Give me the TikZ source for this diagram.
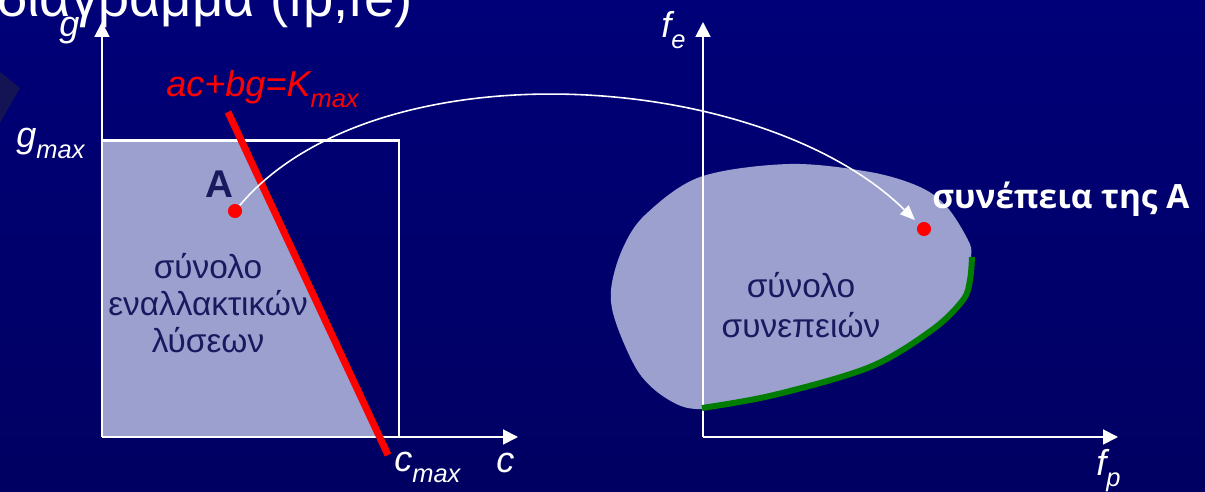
\documentclass[tikz,border=0pt]{standalone}
\usepackage{fontspec}
\setmainfont{Liberation Sans}
\newfontfamily\opensans{Open Sans}
\usetikzlibrary{arrows.meta}
\definecolor{bgtop}{RGB}{0,0,120}
\definecolor{bgbot}{RGB}{0,0,98}
\definecolor{lav}{RGB}{155,160,207}
\definecolor{darktext}{RGB}{25,25,95}
\definecolor{grn}{RGB}{0,125,0}
\definecolor{faint}{RGB}{20,20,85}
\newcommand\subx[1]{\raisebox{-6pt}{\fontsize{14.5}{16}\selectfont #1}}
\begin{document}
\begin{tikzpicture}[x=0.02cm,y=-0.02cm,
  axis/.style={draw=white, line width=1.1pt, -{Triangle[length=8.5pt,width=8.5pt]}},
  lbl/.style={text=white, font=\fontsize{20.5}{23}\selectfont\itshape, inner sep=0pt, anchor=base west},
  settext/.style={text=darktext, font=\fontsize{19}{21}\selectfont, align=center, inner sep=0pt},
  dot/.style={circle, fill=red, minimum size=8pt, inner sep=0pt},
  curve/.style={draw=white, line width=0.9pt, -{Triangle[length=8.5pt,width=7pt]}, shorten >=3pt}]
\useasboundingbox (0,0) rectangle (1205,492);
\clip (0,0) rectangle (1205,492);
\shade[top color=bgtop, bottom color=bgbot] (0,0) rectangle (1205,492);
% faint decoration at left edge
\fill[faint] (0,72) -- (20,88) -- (0,123) -- cycle;
% title (cut off at top)
\node[text=white, font=\fontsize{31}{34}\selectfont, inner sep=0pt, anchor=base west] (title) at (-3,17) {διάγραμμα (fp,fe)};

% ---------- left diagram ----------
\coordinate (oL) at (102,437);
\coordinate (gT) at (102,22);
\coordinate (cT) at (518,437);
\fill[lav] (102,141) -- (241.5,141) -- (379.6,437) -- (102,437) -- cycle;
\draw[axis] (oL) -- (gT);
\draw[axis] (oL) -- (cT);
\draw[white, line width=1.7pt] (102,141) -- (399,141) -- (399,437);
\coordinate (r1) at (228,112);
\coordinate (r2) at (388,455);
\draw[red, line width=4pt] (r1) -- (r2);

\node[lbl] (glab) at (59,37) {g};
\node[lbl] (gmax) at (16,148) {g\subx{max}};
\node[lbl] (cmax) at (394,472) {c\subx{max}};
\node[lbl] (clab) at (496,473) {c};
\node[lbl, text=red] (klab) at (166,97) {ac+bg=K\subx{max}};
\node[text=darktext, font=\fontsize{22}{24}\selectfont\bfseries, inner sep=0pt] (Alab) at (219,184) {A};
\node[settext] (set1) at (208,303) {σύνολο\\εναλλακτικών\\λύσεων};
\node[dot] (dotA) at (235,211) {};

% ---------- right diagram ----------
\coordinate (oR) at (703,437);
\coordinate (feT) at (703,22);
\coordinate (fpT) at (1118,437);
\fill[lav] plot[smooth cycle, tension=0.55] coordinates {(702,409) (774,396) (870,367) (932,330) (963,300) (971,257) (968,240) (947,207) (920,187) (870,172) (789,164) (700,177) (645,215) (622,250) (611,290) (616,323) (639,373) (669,400)};
\draw[axis] (oR) -- (feT);
\draw[axis] (oR) -- (fpT);
\draw[grn, line width=3.4pt] plot[smooth, tension=0.55] coordinates {(702,408) (774,395) (870,367) (932,330) (963,300) (970,280) (972,257)};
\node[settext, font=\fontsize{19}{22.5}\selectfont] (set2) at (801,305) {σύνολο\\συνεπειών};
\node[dot] (dotB) at (924,229) {};
\node[text=white, font=\fontsize{19}{22}\selectfont\opensans\bfseries, inner sep=0pt, anchor=base west] (Bres) at (932,209) {συνέπεια της A};
\node[lbl] (felab) at (661,38) {f\subx{e}};
\node[lbl] (fplab) at (1096,476) {f\subx{p}};

% mapping arrow
\draw[curve] (dotA) .. controls (375,45) and (760,68) .. (dotB);
\end{tikzpicture}
\end{document}
